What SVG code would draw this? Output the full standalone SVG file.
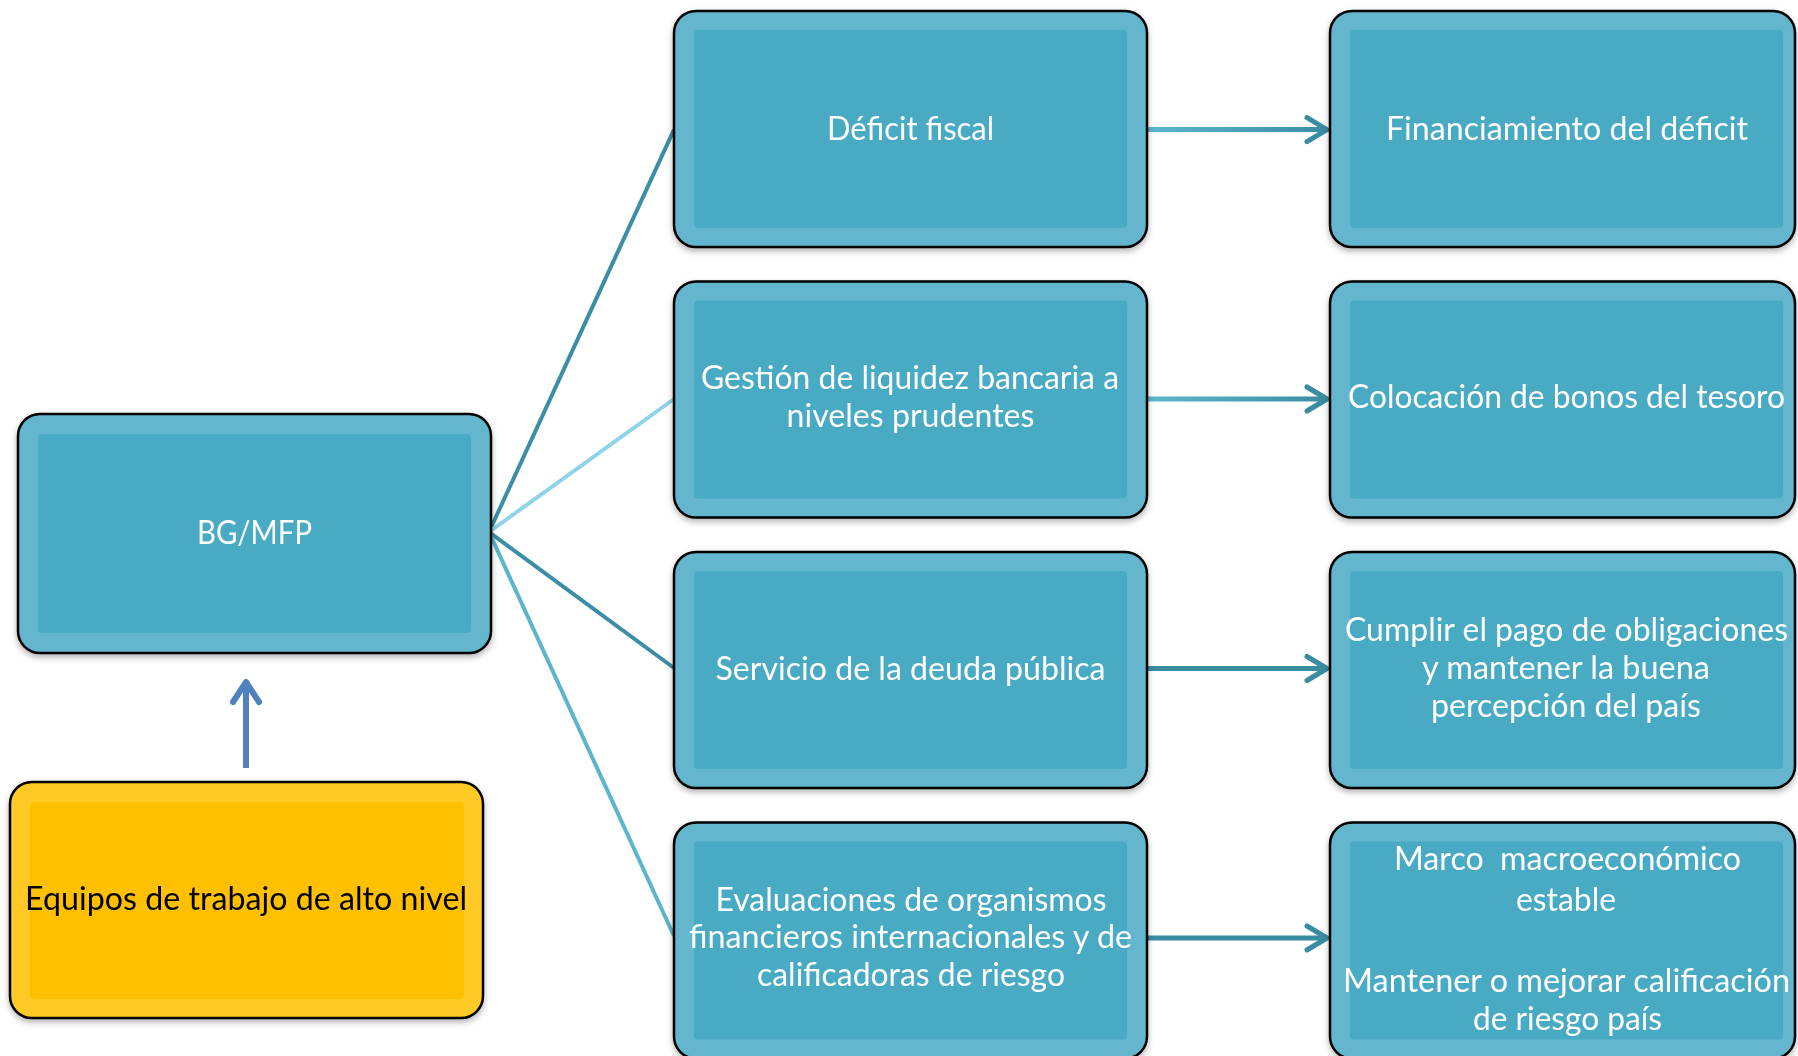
<svg xmlns="http://www.w3.org/2000/svg" width="1798" height="1056" viewBox="0 0 1798 1056">
<style>
.o{fill:#63b6cd;stroke:#000;stroke-width:2.5}
.i{fill:#4aaac4}
.oy{fill:#ffca28;stroke:#000;stroke-width:2.5}
.iy{fill:#ffc000}
.t{font-family:Lato,"Open Sans","Liberation Sans",sans-serif;font-size:32px;fill:#fff;text-anchor:middle}
.tb{fill:#000}
.ln{fill:none;stroke-width:4}
.ar{fill:none;stroke-width:5}
</style>
<defs>
<filter id="sh" x="-5%" y="-5%" width="110%" height="115%">
<feDropShadow dx="0" dy="3" stdDeviation="3" flood-color="#000" flood-opacity="0.3"/>
</filter>
<linearGradient id="ag" gradientUnits="userSpaceOnUse" x1="1147" y1="0" x2="1330" y2="0">
<stop offset="0" stop-color="#5db6cd"/>
<stop offset="1" stop-color="#3a8ca3"/>
</linearGradient>
<marker id="mt" markerUnits="userSpaceOnUse" viewBox="0 0 28 32" refX="24" refY="16" markerWidth="28" markerHeight="32" orient="auto">
<path d="M4,4 L24,16 L4,28" fill="none" stroke="#3a8ca3" stroke-width="5" stroke-linecap="round" stroke-linejoin="round"/>
</marker>
<marker id="mb" markerUnits="userSpaceOnUse" viewBox="0 0 28 34" refX="24" refY="17" markerWidth="28" markerHeight="34" orient="auto">
<path d="M4,4 L24,17 L4,30" fill="none" stroke="#4f81bd" stroke-width="6" stroke-linecap="round" stroke-linejoin="round"/>
</marker>
</defs>
<rect width="1798" height="1056" fill="#fff"/>

<g id="connectors">
<line class="ln" x1="489" y1="532" x2="674" y2="129.6" stroke="#3b8ea5"/>
<line class="ln" x1="489" y1="532" x2="674" y2="399" stroke="#8ed3e8"/>
<line class="ln" x1="489" y1="532" x2="674" y2="668" stroke="#3b8ea5"/>
<line class="ln" x1="489" y1="532" x2="674" y2="936" stroke="#5ab5cd"/>
<line class="ar" x1="1147" y1="129.6" x2="1327" y2="129.6" stroke="url(#ag)" marker-end="url(#mt)"/>
<line class="ar" x1="1147" y1="399" x2="1327" y2="399" stroke="url(#ag)" marker-end="url(#mt)"/>
<line class="ar" x1="1147" y1="668.5" x2="1327" y2="668.5" stroke="#3a8ca3" marker-end="url(#mt)"/>
<line class="ar" x1="1147" y1="938" x2="1327" y2="938" stroke="#3a8ca3" marker-end="url(#mt)"/>
<line x1="246" y1="768" x2="246" y2="682" stroke="#4f81bd" stroke-width="6" marker-end="url(#mb)"/>
</g>

<g id="n-bgmfp" filter="url(#sh)">
<rect class="o" x="18" y="414" width="473" height="239" rx="22"/>
<rect class="i" x="38" y="434" width="433" height="199" rx="4"/>
<text class="t" x="254.5" y="544" textLength="115" lengthAdjust="spacingAndGlyphs">BG/MFP</text>
</g>

<g id="n-equipos" filter="url(#sh)">
<rect class="oy" x="10" y="782" width="473" height="236" rx="22"/>
<rect class="iy" x="30" y="802" width="434" height="197" rx="4"/>
<text class="t tb" x="246" y="910" textLength="442" lengthAdjust="spacingAndGlyphs">Equipos de trabajo de alto nivel</text>
</g>

<g id="n-deficit" filter="url(#sh)">
<rect class="o" x="674" y="11" width="473" height="236" rx="22"/>
<rect class="i" x="694" y="30" width="433" height="198" rx="4"/>
<text class="t" x="910.5" y="140" textLength="167" lengthAdjust="spacingAndGlyphs">Déficit fiscal</text>
</g>

<g id="n-gestion" filter="url(#sh)">
<rect class="o" x="674" y="281.5" width="473" height="236" rx="22"/>
<rect class="i" x="694" y="300.5" width="433" height="198" rx="4"/>
<text class="t" x="910" y="389" textLength="418" lengthAdjust="spacingAndGlyphs">Gestión de liquidez bancaria a</text>
<text class="t" x="910.5" y="427" textLength="248" lengthAdjust="spacingAndGlyphs">niveles prudentes</text>
</g>

<g id="n-servicio" filter="url(#sh)">
<rect class="o" x="674" y="552" width="473" height="236" rx="22"/>
<rect class="i" x="694" y="571" width="433" height="198" rx="4"/>
<text class="t" x="910.5" y="680" textLength="390" lengthAdjust="spacingAndGlyphs">Servicio de la deuda pública</text>
</g>

<g id="n-evaluaciones" filter="url(#sh)">
<rect class="o" x="674" y="822.5" width="473" height="236" rx="22"/>
<rect class="i" x="694" y="841.5" width="433" height="198" rx="4"/>
<text class="t" x="911" y="910.6" textLength="391" lengthAdjust="spacingAndGlyphs">Evaluaciones de organismos</text>
<text class="t" x="910.5" y="948.4" textLength="443" lengthAdjust="spacingAndGlyphs">financieros internacionales y de</text>
<text class="t" x="911" y="986.3" textLength="308" lengthAdjust="spacingAndGlyphs">calificadoras de riesgo</text>
</g>

<g id="n-financiamiento" filter="url(#sh)">
<rect class="o" x="1330" y="11" width="465" height="236" rx="22"/>
<rect class="i" x="1350" y="30" width="433" height="198" rx="4"/>
<text class="t" x="1567" y="140" textLength="362" lengthAdjust="spacingAndGlyphs">Financiamiento del déficit</text>
</g>

<g id="n-colocacion" filter="url(#sh)">
<rect class="o" x="1330" y="281.5" width="465" height="236" rx="22"/>
<rect class="i" x="1350" y="300.5" width="433" height="198" rx="4"/>
<text class="t" x="1566.5" y="408" textLength="437" lengthAdjust="spacingAndGlyphs">Colocación de bonos del tesoro</text>
</g>

<g id="n-cumplir" filter="url(#sh)">
<rect class="o" x="1330" y="552" width="465" height="236" rx="22"/>
<rect class="i" x="1350" y="571" width="433" height="198" rx="4"/>
<text class="t" x="1566.5" y="641" textLength="443" lengthAdjust="spacingAndGlyphs">Cumplir el pago de obligaciones</text>
<text class="t" x="1566" y="679" textLength="288" lengthAdjust="spacingAndGlyphs">y mantener la buena</text>
<text class="t" x="1566" y="717" textLength="270" lengthAdjust="spacingAndGlyphs">percepción del país</text>
</g>

<g id="n-marco" filter="url(#sh)">
<rect class="o" x="1330" y="822.5" width="465" height="236" rx="22"/>
<rect class="i" x="1350" y="841.5" width="433" height="198" rx="4"/>
<text class="t" x="1567.5" y="870" textLength="347" lengthAdjust="spacingAndGlyphs" style="white-space:pre">Marco  macroeconómico</text>
<text class="t" x="1566" y="911" textLength="100" lengthAdjust="spacingAndGlyphs">estable</text>
<text class="t" x="1566.5" y="992" textLength="447" lengthAdjust="spacingAndGlyphs">Mantener o mejorar calificación</text>
<text class="t" x="1567.5" y="1030" textLength="189" lengthAdjust="spacingAndGlyphs">de riesgo país</text>
</g>
</svg>
